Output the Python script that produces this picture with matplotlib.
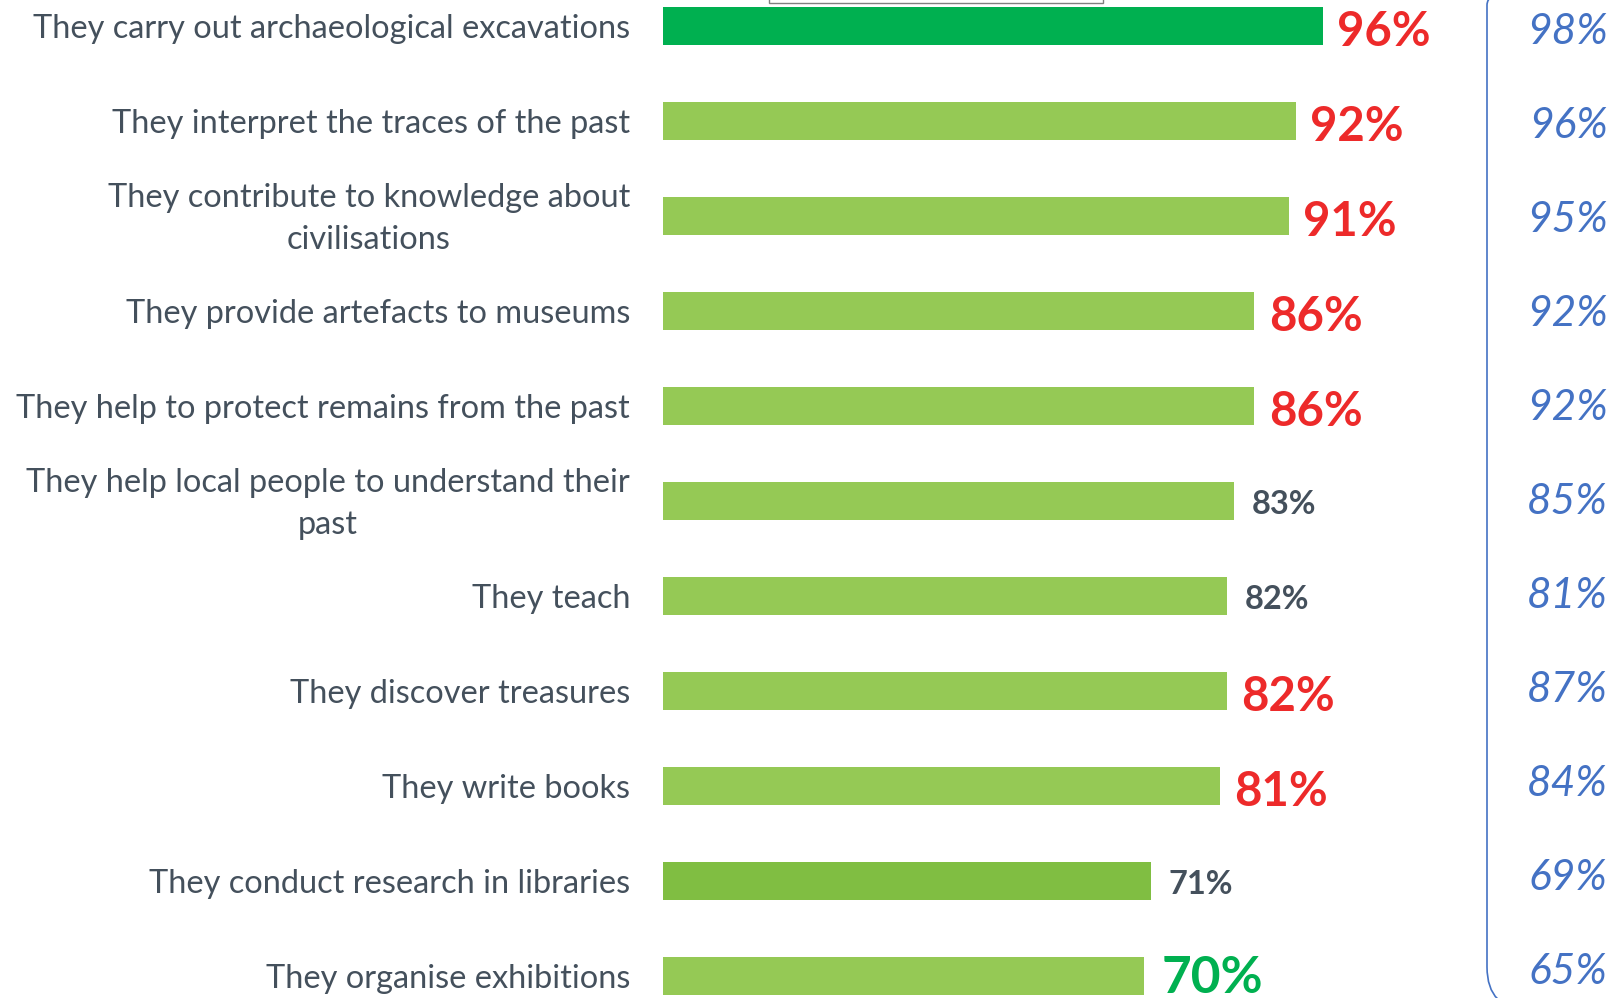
import matplotlib
matplotlib.use("Agg")
import matplotlib.pyplot as plt
from matplotlib.patches import FancyBboxPatch, Rectangle
from matplotlib.transforms import IdentityTransform

categories = [
    "They carry out archaeological excavations",
    "They interpret the traces of the past",
    "They contribute to knowledge about\ncivilisations",
    "They provide artefacts to museums",
    "They help to protect remains from the past",
    "They help local people to understand their\npast",
    "They teach",
    "They discover treasures",
    "They write books",
    "They conduct research in libraries",
    "They organise exhibitions",
]
values = [96, 92, 91, 86, 86, 83, 82, 82, 81, 71, 70]
compare_values = [98, 96, 95, 92, 92, 85, 81, 87, 84, 69, 65]
# label style per row: 'red' big red, 'gray' small dark, 'green' big green
label_styles = ["red", "red", "red", "red", "red", "gray", "gray", "red", "red", "gray", "green"]
bar_colors = ["#00B050", "#95C955", "#95C955", "#95C955", "#95C955", "#95C955",
              "#95C955", "#95C955", "#95C955", "#80BE42", "#95C955"]

W, H, DPI = 1619, 998, 100
fig = plt.figure(figsize=(W / DPI, H / DPI), dpi=DPI)
fig.patch.set_facecolor("white")
ax = fig.add_axes([0, 0, 1, 1])
ax.set_axis_off()

px_per_unit = 6.875
x0 = 663
row_px = 95.0
row0 = 25.8
ax.set_xlim(-x0 / px_per_unit, (W - x0) / px_per_unit)
ax.set_ylim((H - row0) / row_px, -row0 / row_px)

ypos = list(range(len(categories)))
ax.barh(ypos, values, height=0.40, color=bar_colors, left=0)

label_font = "Lato"
text_col = "#44505C"
for y, cat in zip(ypos, categories):
    ax.text(-4.8, y + 0.03, cat, ha="right", va="center", fontsize=23.4, color=text_col,
            family=label_font, multialignment="center", linespacing=1.5)

for y, v, st in zip(ypos, values, label_styles):
    if st == "red":
        ax.text(v + 2.1, y + 0.07, f"{v}%", ha="left", va="center", fontsize=34,
                fontweight="bold", color="#ED2A2A", family=label_font)
    elif st == "green":
        ax.text(v + 2.6, y + 0.03, f"{v}%", ha="left", va="center", fontsize=37,
                fontweight="bold", color="#00B050", family=label_font)
    else:
        ax.text(v + 2.6, y + 0.04, f"{v}%", ha="left", va="center", fontsize=23.5,
                fontweight="bold", color="#44505C", family=label_font)

for y, v in zip(ypos, compare_values):
    ax.text(137.4, 0.06 + y * 0.9895, f"{v}%", ha="right", va="center", fontsize=30.5,
            style="italic", color="#4472C4", family=label_font)

# rounded bracket box on the right (partially outside figure)
box = FancyBboxPatch((1487, H - 1010), 400, 1048,
                     boxstyle="round,pad=0,rounding_size=43",
                     transform=IdentityTransform(), facecolor="none",
                     edgecolor="#4472C4", linewidth=1.2, clip_on=False)
fig.add_artist(box)

# partially visible box at top
top_box = Rectangle((769, H - 2.5), 334, 30, transform=IdentityTransform(),
                    facecolor="white", edgecolor="#808080", linewidth=1.0)
fig.add_artist(top_box)

fig.savefig("out.png", dpi=DPI, facecolor="white")
